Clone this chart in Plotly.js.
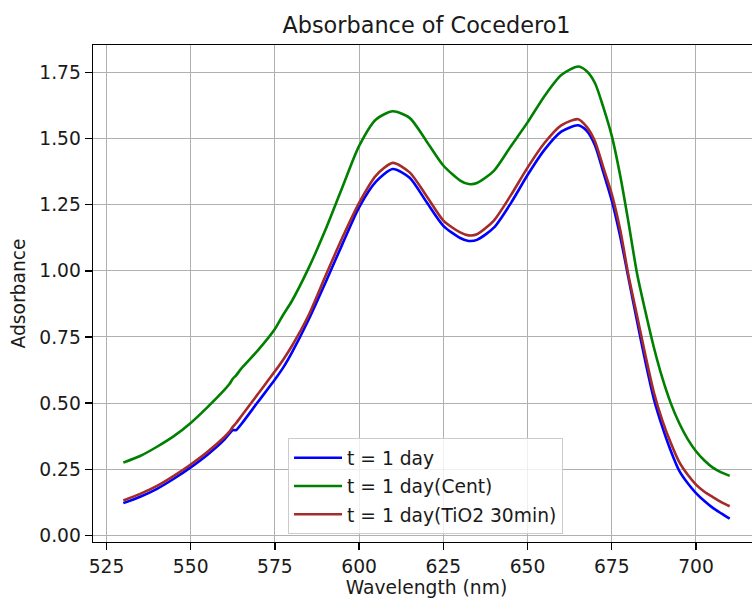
<!DOCTYPE html>
<html>
<head>
<meta charset="utf-8">
<script src="https://cdn.plot.ly/plotly-3.0.1.min.js"></script>
<style>
html, body { margin: 0; padding: 0; overflow: hidden; background: #fff; }
#chart { width: 770px; height: 598px; }
</style>
</head>
<body>
<div id="chart"></div>
<script>
const wavelength = [530, 535, 540, 545, 550, 555, 560, 561.5, 562.5, 563.5, 565, 570, 575, 577.5, 580, 585, 590, 595, 600, 605, 610, 615, 620, 625, 630, 632.5, 635, 640, 645, 650, 655, 660, 665, 667.5, 670, 672.5, 675, 677.5, 680, 682.5, 685, 687.5, 690, 692.5, 695, 697.5, 700, 702.5, 705, 707.5, 710];

const day1 = [0.122, 0.146, 0.176, 0.214, 0.257, 0.305, 0.362, 0.385, 0.398, 0.398, 0.420, 0.505, 0.589, 0.635, 0.690, 0.815, 0.955, 1.100, 1.240, 1.337, 1.385, 1.352, 1.260, 1.170, 1.124, 1.113, 1.117, 1.163, 1.255, 1.362, 1.457, 1.526, 1.550, 1.530, 1.475, 1.372, 1.265, 1.130, 0.970, 0.810, 0.655, 0.515, 0.410, 0.320, 0.245, 0.198, 0.160, 0.130, 0.104, 0.083, 0.063];

const day1Cent = [0.275, 0.300, 0.335, 0.375, 0.425, 0.485, 0.550, 0.572, 0.592, 0.605, 0.630, 0.700, 0.780, 0.835, 0.885, 1.010, 1.155, 1.315, 1.472, 1.572, 1.603, 1.578, 1.490, 1.398, 1.341, 1.328, 1.332, 1.378, 1.470, 1.561, 1.660, 1.740, 1.772, 1.755, 1.710, 1.618, 1.510, 1.360, 1.180, 0.990, 0.845, 0.710, 0.595, 0.500, 0.425, 0.365, 0.318, 0.283, 0.256, 0.238, 0.225];

const day1TiO2 = [0.132, 0.157, 0.187, 0.225, 0.268, 0.316, 0.372, 0.392, 0.410, 0.425, 0.450, 0.535, 0.620, 0.665, 0.715, 0.832, 0.980, 1.125, 1.257, 1.360, 1.408, 1.372, 1.283, 1.190, 1.145, 1.134, 1.138, 1.190, 1.285, 1.390, 1.483, 1.550, 1.573, 1.545, 1.490, 1.390, 1.290, 1.155, 0.980, 0.830, 0.680, 0.540, 0.435, 0.350, 0.278, 0.230, 0.192, 0.165, 0.145, 0.126, 0.110];

const seriesNames = ['t = 1 day', 't = 1 day(Cent)', 't = 1 day(TiO2 30min)'];
const seriesColors = ['#0000ff', '#008000', '#a52a2a'];
const seriesValues = [day1, day1Cent, day1TiO2];

const xTicks = [525, 550, 575, 600, 625, 650, 675, 700];
const yTicks = [0, 0.25, 0.5, 0.75, 1.0, 1.25, 1.5, 1.75];

const FONT = 'DejaVu Sans, sans-serif';
const FS = 18.7;

const traces = seriesValues.map((vals, i) => ({
  x: wavelength,
  y: vals,
  type: 'scatter',
  mode: 'lines',
  name: seriesNames[i],
  legendgroup: 'g' + i,
  line: { color: seriesColors[i], width: 2.6, shape: 'spline', smoothing: 0.7 },
  hoverinfo: 'skip'
}));

const axisCommon = {
  showgrid: true,
  gridcolor: '#b0b0b0',
  gridwidth: 1,
  zeroline: false,
  showline: true,
  linecolor: '#000000',
  linewidth: 1.4,
  ticks: 'outside',
  ticklen: 7,
  tickwidth: 1.4,
  tickcolor: '#000000',
  tickfont: { family: FONT, size: FS, color: '#1a1a1a' }
};

const layout = {
  width: 770,
  height: 598,
  margin: { l: 93, r: 10, t: 45, b: 56 },
  paper_bgcolor: '#ffffff',
  plot_bgcolor: '#ffffff',
  font: { family: FONT, size: FS, color: '#1a1a1a' },
  title: {
    text: 'Absorbance of Cocedero1',
    font: { family: FONT, size: 22.4, color: '#1a1a1a' },
    xref: 'paper', x: 0.5, xanchor: 'center',
    yref: 'paper', y: 1, yanchor: 'bottom',
    pad: { b: 12 }
  },
  xaxis: Object.assign({}, axisCommon, {
    range: [521, 719],
    tickvals: xTicks,
    ticktext: xTicks.map(String),
    mirror: true,
    title: { text: 'Wavelength (nm)', font: { family: FONT, size: FS, color: '#1a1a1a' }, standoff: 3 }
  }),
  yaxis: Object.assign({}, axisCommon, {
    range: [-0.025, 1.8535],
    tickvals: yTicks,
    ticktext: yTicks.map(v => v.toFixed(2)),
    mirror: true,
    title: { text: 'Adsorbance', font: { family: FONT, size: FS, color: '#1a1a1a' }, standoff: 8 }
  }),
  showlegend: true,
  legend: {
    x: 0.2924, y: 0.2092, xanchor: 'left', yanchor: 'top',
    xref: 'paper', yref: 'paper',
    bgcolor: 'rgba(255,255,255,0.8)',
    bordercolor: '#cccccc',
    borderwidth: 1,
    font: { family: FONT, size: FS, color: '#1a1a1a' },
    tracegroupgap: 1,
    itemwidth: 48
  }
};

Plotly.newPlot('chart', traces, layout, { staticPlot: true, displayModeBar: false });
</script>
</body>
</html>
